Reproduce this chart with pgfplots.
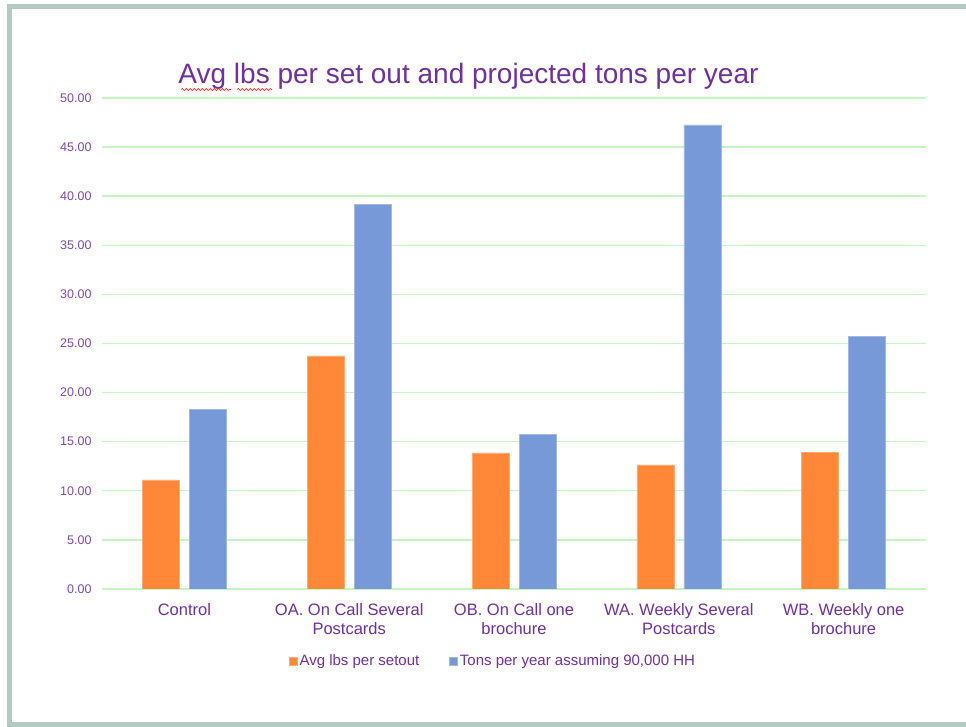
\documentclass[border=0pt]{standalone}
\usepackage{fontspec}
\setmainfont{Liberation Sans}
\usepackage{pgfplots}
\pgfplotsset{compat=1.18}
\usetikzlibrary{decorations.pathmorphing}
\definecolor{barorange}{HTML}{FF8838}
\definecolor{barblue}{HTML}{7799D7}
\definecolor{txtpurple}{HTML}{7030A0}
\definecolor{tickpurple}{HTML}{7F48B0}
\definecolor{gridgreen}{HTML}{C2F7C2}
\definecolor{framecol}{HTML}{B3C9C1}
\begin{document}
\begin{tikzpicture}[x=1pt,y=1pt]
\useasboundingbox (0,0) rectangle (966,727);
\begin{scope}
\clip (0,0) rectangle (966,727);
\fill[white] (0,0) rectangle (966,727);
\draw[framecol, line width=5pt] (9.5,2.5) rectangle (990,720);
\end{scope}
\node[anchor=base, text=txtpurple, font=\fontsize{28}{32}\selectfont] at (468.5,643) {Avg lbs per set out and projected tons per year};
\draw[red, line width=0.6pt, decorate, decoration={snake, segment length=4pt, amplitude=0.9pt}] (181,637.5) -- (231,637.5);
\draw[red, line width=0.6pt, decorate, decoration={snake, segment length=4pt, amplitude=0.9pt}] (237,637.5) -- (272,637.5);
\begin{axis}[
  at={(102pt,138pt)}, anchor=south west,
  scale only axis, width=824pt, height=491pt,
  ybar=10pt, bar width=37pt,
  xmin=-0.5, xmax=4.5, ymin=0, ymax=50,
  xtick={0,1,2,3,4},
  xticklabels={Control, {OA. On Call Several\\Postcards}, {OB. On Call one\\brochure}, {WA. Weekly Several\\Postcards}, {WB. Weekly one\\brochure}},
  ytick={0,5,...,50},
  axis line style={draw=none},
  major tick length=0pt,
  ymajorgrids, grid style={draw=gridgreen, line width=1.4pt},
  /pgf/number format/assume math mode=true,
  yticklabel style={/pgf/number format/fixed, /pgf/number format/fixed zerofill, /pgf/number format/precision=2, font=\fontsize{12.5}{14}\selectfont, text=tickpurple, xshift=-7pt},
  xticklabel style={align=center, font=\fontsize{16.5}{19}\selectfont, text=txtpurple, yshift=-11pt},
  legend columns=2,
  legend style={at={(rel axis cs:0.4745,-0.1466)}, anchor=center, draw=none, fill=none,
    font=\fontsize{15}{17}\selectfont, text=txtpurple,
    /tikz/every even column/.append style={column sep=28pt},
    inner sep=0pt},
  legend image code/.code={\fill[#1] (0pt,-4pt) rectangle (8pt,4pt);},
]
\addplot[fill=barorange, draw=barorange!70!white, line width=0.6pt] coordinates {(0,11.10) (1,23.73) (2,13.85) (3,12.63) (4,13.95)};
\addplot[fill=barblue, draw=barblue!70!white, line width=0.6pt] coordinates {(0,18.30) (1,39.20) (2,15.78) (3,47.25) (4,25.76)};
\legend{Avg lbs per setout, Tons per year assuming 90{,}000 HH}
\end{axis}
\end{tikzpicture}
\end{document}
